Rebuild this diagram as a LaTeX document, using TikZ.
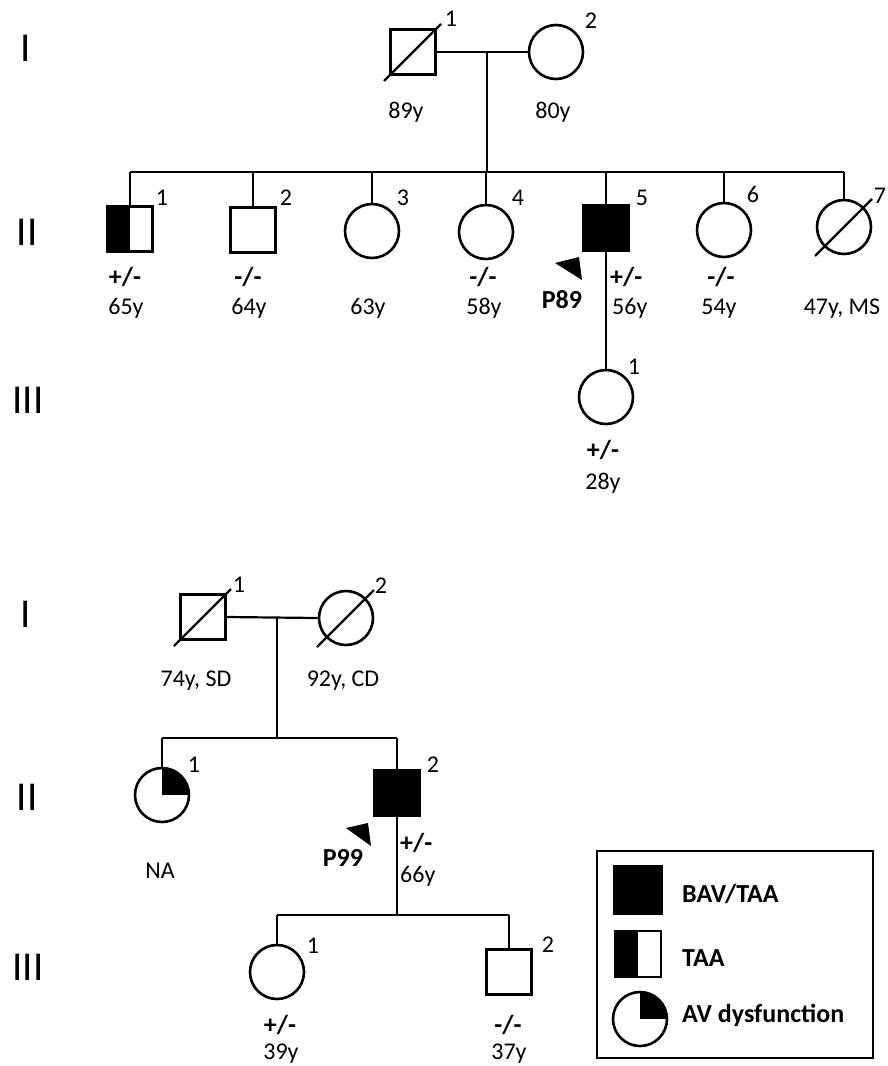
\documentclass[tikz,border=0pt]{standalone}
\usepackage{fontspec}
\setmainfont{Carlito}
\usetikzlibrary{calc}
\tikzset{
  conn/.style={line width=2.2pt},
  shp/.style={draw, line width=2.6pt, inner sep=0pt},
  male/.style={shp, rectangle, minimum size=45pt},
  female/.style={shp, circle, minimum size=54pt},
  affected/.style={fill=black},
  halfsq/.style={path picture={\fill[black] (path picture bounding box.south west) rectangle (path picture bounding box.north);}},
  quarter/.style={path picture={\fill[black] (path picture bounding box.center) rectangle (path picture bounding box.north east);}},
  txt/.style={inner sep=0pt, anchor=base, font=\fontsize{24}{28}\selectfont},
  btxt/.style={inner sep=0pt, anchor=base, font=\fontsize{26}{30}\selectfont\bfseries},
  num/.style={inner sep=0pt, anchor=base, font=\fontsize{24}{28}\selectfont},
  gen/.style={inner sep=0pt, anchor=center, font=\fontsize{41}{45}\selectfont},
  legtxt/.style={inner sep=0pt, anchor=base west, font=\fontsize{26}{30}\selectfont\bfseries},
  slash/.style={line width=2.2pt},
}
\newcommand{\deceased}[1]{\draw[slash] ($(#1.center)+(-29,29)$) -- ($(#1.center)+(28,-28)$);}
\begin{document}
\begin{tikzpicture}[x=1pt,y=-1pt]
\useasboundingbox[fill=white] (0,0) rectangle (887,1066);

% ---------- generation labels ----------
\node[gen] (gA1) at (26,48) {I};
\node[gen] (gA2) at (27,232) {II};
\node[gen] (gA3) at (28,400) {III};
\node[gen] (gB1) at (26,614) {I};
\node[gen] (gB2) at (27,797) {II};
\node[gen] (gB3) at (28,967) {III};

% ================= Pedigree P89 =================
\node[male] (aI1) at (413,52) {};
\node[female] (aI2) at (556,52) {};
\node[male, halfsq] (aII1) at (130,229) {};
\node[male] (aII2) at (253,230) {};
\node[female] (aII3) at (372,231) {};
\node[female] (aII4) at (486,232) {};
\node[male, affected] (aII5) at (606,228) {};
\node[female] (aII6) at (724,230) {};
\node[female] (aII7) at (844,227) {};
\node[female] (aIII1) at (606,397) {};

\deceased{aI1}
\deceased{aII7}

\coordinate (am) at (487,52);
\coordinate (as) at (487,172);
\coordinate (asL) at (130,172);
\coordinate (asR) at (844,172);
\draw[conn] (aI1.east) -- (aI2.west);
\draw[conn] (am) -- (as);
\draw[conn] (asL) -- (asR);
\draw[conn] (asL) -- (aII1.north);
\draw[conn] (aII2.north |- as) -- (aII2.north);
\draw[conn] (aII3.north |- as) -- (aII3.north);
\draw[conn] (aII4.north |- as) -- (aII4.north);
\draw[conn] (aII5.north |- as) -- (aII5.north);
\draw[conn] (aII6.north |- as) -- (aII6.north);
\draw[conn] (asR) -- (aII7.north);
\draw[conn] (aII5.south) -- (aIII1.north);

% proband arrow
\fill (555,263) -- (579,257) -- (582,280) -- cycle;

% numbers
\node[num] (naI1) at (451,26) {1};
\node[num] (naI2) at (591,28) {2};
\node[num] (naII1) at (162,205) {1};
\node[num] (naII2) at (286,205) {2};
\node[num] (naII3) at (403,205) {3};
\node[num] (naII4) at (518,205) {4};
\node[num] (naII5) at (642,205) {5};
\node[num] (naII6) at (753,202) {6};
\node[num] (naII7) at (880,203) {7};
\node[num] (naIII1) at (634,374) {1};

% ages / genotypes
\node[txt] (ageaI1) at (406,118) {89y};
\node[txt] (ageaI2) at (553,118) {80y};
\node[btxt] (gtaII1) at (125,285) {+/-};
\node[txt] (ageaII1) at (126,314) {65y};
\node[btxt] (gtaII2) at (248,285) {-/-};
\node[txt] (ageaII2) at (249,314) {64y};
\node[txt] (ageaII3) at (368,314) {63y};
\node[btxt] (gtaII4) at (483,285) {-/-};
\node[txt] (ageaII4) at (484,314) {58y};
\node[btxt, anchor=base west] (gtaII5) at (610,285) {+/-};
\node[txt, anchor=base west] (ageaII5) at (612,314) {56y};
\node[btxt] (pa) at (562,308) {P89};
\node[btxt] (gtaII6) at (721,285) {-/-};
\node[txt] (ageaII6) at (719,314) {54y};
\node[txt] (ageaII7) at (842,314) {47y, MS};
\node[btxt] (gtaIII1) at (603,458) {+/-};
\node[txt] (ageaIII1) at (603,489) {28y};

% ================= Pedigree P99 =================
\node[male] (bI1) at (203,617) {};
\node[female] (bI2) at (346,618) {};
\node[female, quarter] (bII1) at (162,795) {};
\node[male, affected] (bII2) at (397,793) {};
\node[female] (bIII1) at (277,972) {};
\node[male] (bIII2) at (509,972) {};

\deceased{bI1}
\deceased{bI2}

\coordinate (bm) at (277,618);
\coordinate (bs) at (277,738);
\coordinate (bsL) at (162,738);
\coordinate (bsR) at (397,738);
\draw[conn] (bI1.east) -- (bI2.west);
\draw[conn] (bm) -- (bs);
\draw[conn] (bsL) -- (bsR);
\draw[conn] (bsL) -- (bII1.north);
\draw[conn] (bsR) -- (bII2.north);
\coordinate (bt) at (397,915);
\coordinate (btL) at (277,915);
\coordinate (btR) at (509,915);
\draw[conn] (bII2.south) -- (bt);
\draw[conn] (btL) -- (btR);
\draw[conn] (btL) -- (bIII1.north);
\draw[conn] (btR) -- (bIII2.north);

% proband arrow
\fill (346,828) -- (368,823) -- (371,846) -- cycle;

% numbers
\node[num] (nbI1) at (239,592) {1};
\node[num] (nbI2) at (381,593) {2};
\node[num] (nbII1) at (194,772) {1};
\node[num] (nbII2) at (433,772) {2};
\node[num] (nbIII1) at (313,953) {1};
\node[num] (nbIII2) at (548,952) {2};

% ages / genotypes
\node[txt] (agebI1) at (196,686) {74y, SD};
\node[txt] (agebI2) at (343,686) {92y, CD};
\node[txt] (agebII1) at (160,878) {NA};
\node[btxt] (pb) at (343,866) {P99};
\node[btxt, anchor=base west] (gtbII2) at (400,851) {+/-};
\node[txt, anchor=base west] (agebII2) at (400,882) {66y};
\node[btxt] (gtbIII1) at (280,1033) {+/-};
\node[txt] (agebIII1) at (281,1059) {39y};
\node[btxt] (gtbIII2) at (508,1033) {-/-};
\node[txt] (agebIII2) at (509,1059) {37y};

% ================= Legend =================
\node[draw, line width=1.6pt, minimum width=276pt, minimum height=207pt, inner sep=0pt] (leg) at (735,954.5) {};
\node[male, affected, minimum size=47pt] (lg1) at (638,890) {};
\node[male, halfsq, minimum size=46pt] (lg2) at (638,954) {};
\node[female, quarter] (lg3) at (640,1019) {};
\node[legtxt] (lt1) at (682,902) {BAV/TAA};
\node[legtxt] (lt2) at (682,966) {TAA};
\node[legtxt] (lt3) at (682,1022) {AV dysfunction};
\end{tikzpicture}
\end{document}
